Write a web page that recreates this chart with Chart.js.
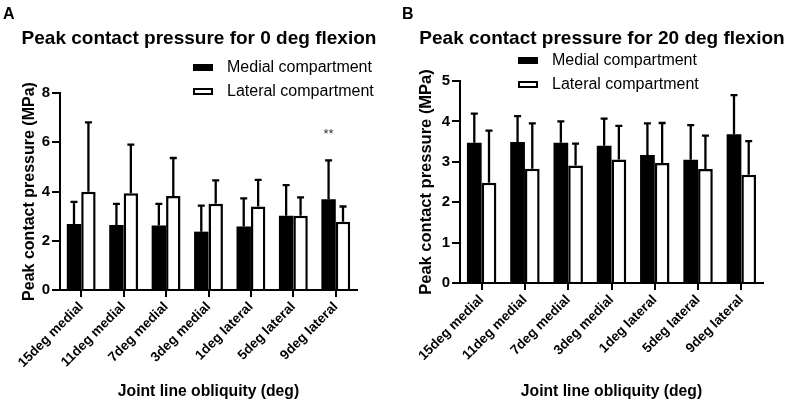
<!DOCTYPE html>
<html>
<head>
<meta charset="utf-8">
<script src="https://cdn.jsdelivr.net/npm/chart.js@4.4.1/dist/chart.umd.min.js"></script>
<style>
  body { margin: 0; background: #fff; font-family: 'Liberation Sans', Arial, sans-serif; }
  #wrap { position: relative; width: 793px; height: 407px; overflow: hidden; }
  canvas { position: absolute; top: 0; }
  .panel { position: absolute; font-weight: bold; font-size: 16px; line-height: 16px; }
  .title { position: absolute; font-weight: bold; font-size: 19px; line-height: 20px; white-space: nowrap; transform: translateX(-50%); }
  .legend { position: absolute; font-size: 16px; line-height: 18px; white-space: nowrap; }
  .legend div { height: 24px; display: flex; align-items: center; }
  .sw { display: inline-block; width: 20px; height: 7px; box-sizing: border-box; border: 2px solid #000; margin-right: 14px; }
</style>
</head>
<body>
<div id="wrap">
  <canvas id="chartA" width="397" height="407" style="left:0"></canvas>
  <canvas id="chartB" width="396" height="407" style="left:397px"></canvas>
  <div class="panel" style="left:3px;top:6px">A</div>
  <div class="panel" style="left:402px;top:6px">B</div>
  <div class="title" style="left:199px;top:28px">Peak contact pressure for 0 deg flexion</div>
  <div class="title" style="left:602px;top:28px">Peak contact pressure for 20 deg flexion</div>
  <div class="legend" style="left:193px;top:55px">
    <div><span class="sw" style="background:#000"></span>Medial compartment</div>
    <div><span class="sw" style="background:#fff"></span>Lateral compartment</div>
  </div>
  <div class="legend" style="left:518px;top:48px">
    <div><span class="sw" style="background:#000"></span>Medial compartment</div>
    <div><span class="sw" style="background:#fff"></span>Lateral compartment</div>
  </div>
</div>
<script>
// categories
const obliquity = ['15deg medial', '11deg medial', '7deg medial', '3deg medial', '1deg lateral', '5deg lateral', '9deg lateral'];

// 0 deg flexion (mean and SD, MPa)
const medial0 = [2.68, 2.64, 2.62, 2.37, 2.58, 3.02, 3.69];
const medial0Sd = [0.90, 0.86, 0.88, 1.06, 1.14, 1.24, 1.57];
const lateral0 = [3.99, 3.93, 3.82, 3.50, 3.39, 3.02, 2.77];
const lateral0Sd = [2.82, 1.97, 1.54, 0.95, 1.08, 0.74, 0.62];
const sig0 = ['', '', '', '', '', '', '**'];
const sig0Level = 6.45;

// 20 deg flexion
const medial20 = [3.47, 3.49, 3.47, 3.40, 3.17, 3.05, 3.68];
const medial20Sd = [0.72, 0.64, 0.53, 0.67, 0.78, 0.86, 0.97];
const lateral20 = [2.48, 2.83, 2.91, 3.06, 2.97, 2.82, 2.68];
const lateral20Sd = [1.29, 1.12, 0.54, 0.83, 0.99, 0.83, 0.83];

// y axis ticks
const ticks0 = { max: 8, step: 2 };
const ticks20 = { max: 5, step: 1 };

const FONT = "'Liberation Sans', Arial, sans-serif";

// draws upward SD whiskers with a cap on every bar
const errorBars = {
  id: 'errorBars',
  afterDatasetsDraw(chart) {
    const ctx = chart.ctx;
    const y = chart.scales.y;
    ctx.save();
    ctx.strokeStyle = '#000';
    ctx.lineWidth = 2.3;
    chart.data.datasets.forEach((ds, d) => {
      const meta = chart.getDatasetMeta(d);
      meta.data.forEach((bar, i) => {
        const top = y.getPixelForValue(ds.data[i] + ds.sd[i]);
        ctx.beginPath();
        ctx.moveTo(bar.x, bar.y);
        ctx.lineTo(bar.x, top);
        ctx.moveTo(bar.x - 3.5, top);
        ctx.lineTo(bar.x + 3.5, top);
        ctx.stroke();
      });
    });
    ctx.restore();
  }
};

// significance stars above the medial bar
const sigMarks = {
  id: 'sigMarks',
  afterDatasetsDraw(chart, args, opts) {
    if (!opts.marks) return;
    const ctx = chart.ctx;
    const meta = chart.getDatasetMeta(0);
    ctx.save();
    ctx.fillStyle = '#333';
    ctx.font = '13px ' + FONT;
    ctx.textAlign = 'center';
    ctx.textBaseline = 'middle';
    opts.marks.forEach((m, i) => {
      if (m) ctx.fillText(m, meta.data[i].x, chart.scales.y.getPixelForValue(opts.level) + 3);
    });
    ctx.restore();
  }
};

function makeChart(id, medial, medialSd, lateral, lateralSd, t, box, sig) {
  new Chart(document.getElementById(id), {
    type: 'bar',
    data: {
      labels: obliquity,
      datasets: [
        { label: 'Medial compartment', data: medial, sd: medialSd, backgroundColor: '#000', borderWidth: 0 },
        { label: 'Lateral compartment', data: lateral, sd: lateralSd, backgroundColor: '#fff', borderColor: '#000', borderWidth: 2.5 }
      ]
    },
    plugins: [errorBars, sigMarks],
    options: {
      responsive: false,
      animation: false,
      devicePixelRatio: 1,
      layout: { padding: { left: 20, top: box.top, right: box.right, bottom: 0 } },
      datasets: { bar: { categoryPercentage: 0.68, barPercentage: 1.0 } },
      plugins: {
        legend: { display: false },
        tooltip: { enabled: false },
        sigMarks: sig || {}
      },
      scales: {
        x: {
          grid: { display: true, drawOnChartArea: false, offset: false, color: '#000', lineWidth: 2, tickLength: 7 },
          border: { display: true, color: '#000', width: 2 },
          ticks: { color: '#000', font: { family: FONT, size: 13.5, weight: 'bold' }, minRotation: 45, maxRotation: 45, padding: 2 },
          title: { display: true, text: 'Joint line obliquity (deg)', color: '#000', font: { family: FONT, size: 15.7, weight: 'bold' }, padding: { top: 0, bottom: 6 } },
          afterFit(s) { s.height = box.xh; }
        },
        y: {
          min: 0,
          max: t.max,
          grid: { display: true, drawOnChartArea: false, color: '#000', lineWidth: 2, tickLength: 8 },
          border: { display: true, color: '#000', width: 2 },
          ticks: { stepSize: t.step, color: '#000', font: { family: FONT, size: 15, weight: 'bold' }, padding: 2 },
          title: { display: true, text: 'Peak contact pressure (MPa)', color: '#000', font: { family: FONT, size: box.ytSize, weight: 'bold' }, padding: 0 },
          afterFit(s) { s.width = box.yw; }
        }
      }
    }
  });
}

makeChart('chartA', medial0, medial0Sd, lateral0, lateral0Sd, ticks0,
  { top: 93, right: 40, xh: 117, yw: 40, ytSize: 16 }, { marks: sig0, level: sig0Level });
makeChart('chartB', medial20, medial20Sd, lateral20, lateral20Sd, ticks20,
  { top: 81, right: 30, xh: 124, yw: 43, ytSize: 16.5 }, null);
</script>
</body>
</html>
